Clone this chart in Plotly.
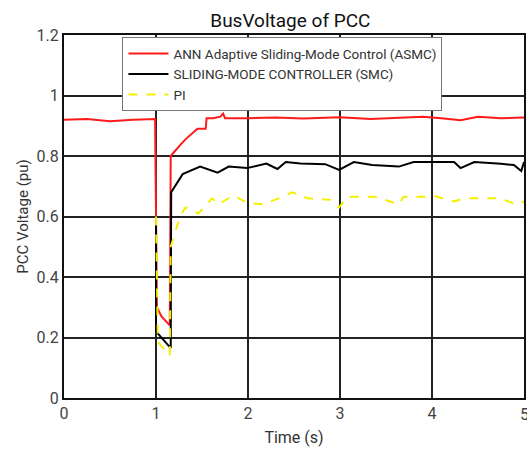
import plotly.graph_objects as go

# ASMC (red)
t_asmc = [0, 0.25, 0.5, 0.75, 0.99, 1.0, 1.01, 1.06, 1.15, 1.16, 1.2, 1.26, 1.32, 1.4, 1.45, 1.54, 1.55, 1.62, 1.7, 1.73, 1.75,
          2.0, 2.3, 2.6, 3.0, 3.33, 3.6, 3.9, 4.1, 4.31, 4.5, 4.75, 5.0]
v_asmc = [0.92, 0.922, 0.915, 0.92, 0.922, 0.59, 0.3, 0.27, 0.24, 0.80, 0.815, 0.835, 0.855, 0.875, 0.89, 0.89, 0.925, 0.925, 0.93, 0.94, 0.925,
          0.925, 0.927, 0.924, 0.928, 0.922, 0.926, 0.93, 0.925, 0.918, 0.93, 0.925, 0.927]

# SMC (black)
t_smc = [1.0, 1.0, 1.16, 1.165, 1.29, 1.48, 1.67, 1.79, 1.99, 2.2, 2.32, 2.41, 2.57, 2.84, 2.99, 3.15, 3.35, 3.64, 3.8,
         4.0, 4.24, 4.31, 4.46, 4.75, 4.89, 4.97, 5.0]
v_smc = [0.6, 0.22, 0.165, 0.68, 0.74, 0.765, 0.745, 0.765, 0.76, 0.775, 0.757, 0.78, 0.775, 0.773, 0.754, 0.78, 0.77, 0.765, 0.78,
         0.78, 0.78, 0.76, 0.78, 0.774, 0.77, 0.75, 0.78]

# PI (yellow dashed)
t_pi = [1.0, 1.02, 1.15, 1.16, 1.26, 1.32, 1.46, 1.61, 1.68, 1.84, 1.99, 2.17, 2.33, 2.48, 2.65, 2.9, 2.99, 3.08, 3.37, 3.44,
        3.64, 3.69, 3.91, 4.02, 4.24, 4.35, 4.75, 4.91, 5.0]
v_pi = [0.6, 0.185, 0.14, 0.5, 0.6, 0.63, 0.61, 0.66, 0.64, 0.67, 0.645, 0.64, 0.66, 0.68, 0.66, 0.655, 0.63, 0.665, 0.665, 0.66,
        0.64, 0.665, 0.665, 0.668, 0.65, 0.66, 0.66, 0.64, 0.65]

x_ticks = [0, 1, 2, 3, 4]
x_last_tick = 5
y_ticks = [0, 0.2, 0.4, 0.6, 0.8, 1.0, 1.2]
y_tick_text = ["0", "0.2", "0.4", "0.6", "0.8", "1", "1.2"]

fig = go.Figure()
fig.add_trace(go.Scatter(x=t_asmc, y=v_asmc, mode="lines", name="ANN Adaptive Sliding-Mode Control (ASMC)",
                         line=dict(color="#ff1a1a", width=2)))
fig.add_trace(go.Scatter(x=t_smc, y=v_smc, mode="lines", name="SLIDING-MODE CONTROLLER (SMC)",
                         line=dict(color="#000000", width=2)))
fig.add_trace(go.Scatter(x=t_pi, y=v_pi, mode="lines", name="PI",
                         line=dict(color="#f5f000", width=2, dash="dash")))

# last x tick label (partially cut off by the page edge, as in the reference)
fig.add_annotation(x=x_last_tick, y=0, xref="x", yref="y", text=str(x_last_tick), showarrow=False,
                   xanchor="center", yanchor="top", yshift=-5, font=dict(size=16, color="#444"))

fig.update_layout(
    width=527, height=450,
    margin=dict(l=64, r=1, t=35, b=52),
    paper_bgcolor="white", plot_bgcolor="white",
    font=dict(family="Roboto, sans-serif", size=16, color="#444"),
    title=dict(text="BusVoltage of PCC", x=0.551, xanchor="center", y=0.955, yanchor="middle",
               font=dict(size=19, color="#111")),
    showlegend=True,
    legend=dict(x=0.127, y=0.994, xanchor="left", yanchor="top", bgcolor="white",
                bordercolor="#777", borderwidth=1, font=dict(size=13.5, color="#333"),
                tracegroupgap=0, itemwidth=40),
    xaxis=dict(range=[0, 5], tickvals=x_ticks, showgrid=True, gridcolor="#222", gridwidth=1.5,
               showline=True, linecolor="#111", linewidth=2, mirror=True, zeroline=False,
               ticks="", tickfont=dict(size=16),
               title=dict(text="Time (s)", standoff=10, font=dict(size=16, color="#333"))),
    yaxis=dict(range=[0, 1.2], tickvals=y_ticks, ticktext=y_tick_text, showgrid=True, gridcolor="#222",
               gridwidth=1.5, showline=True, linecolor="#111", linewidth=2, mirror=True, zeroline=False,
               ticks="", tickfont=dict(size=16),
               title=dict(text="PCC Voltage (pu)", standoff=4, font=dict(size=15, color="#333"))),
)

fig.write_html("out.html")
